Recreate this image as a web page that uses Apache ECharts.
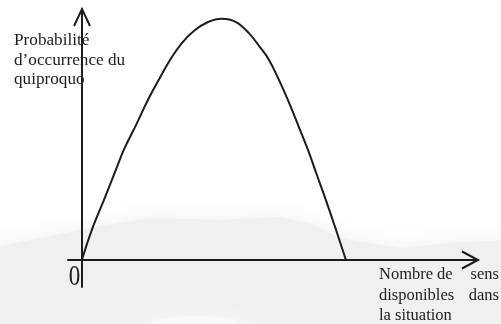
<!DOCTYPE html>
<html>
<head>
<meta charset="utf-8">
<script src="https://cdn.jsdelivr.net/npm/echarts@6/dist/echarts.min.js"></script>
<style>
  html, body { margin: 0; padding: 0; background: #fff; }
  #chart { width: 501px; height: 324px; }
</style>
</head>
<body>
<div id="chart"></div>
<script>
// curve (x: nombre de sens, y: probabilité, peak = 1)
const curveX = [0, 0.30, 0.67, 1.03, 1.27, 1.64, 2.0, 2.36, 2.67, 3.03, 3.39, 3.82, 4.24,
  4.67, 5.06, 5.39, 5.67, 5.97, 6.24, 6.55, 6.85, 7.12, 7.39, 7.70, 8.0]
const curveY = [0, 0.124, 0.249, 0.373, 0.456, 0.559, 0.663, 0.754, 0.829, 0.899, 0.949, 0.986, 1.0,
  0.986, 0.94, 0.883, 0.829, 0.746, 0.663, 0.559, 0.456, 0.352, 0.249, 0.124, 0]

const yLabel = ['Probabilité', 'd\u2019occurrence du', 'quiproquo']
const xLabel = [['Nombre', 'de', 'sens'], ['disponibles', 'dans'], ['la situation']]
const originLabel = '0'

const font = '16.5px "Liberation Serif", "Times New Roman", serif'
const ink = '#1c1c1c'

const chart = echarts.init(document.getElementById('chart'))

const points = curveX.map((x, i) => [x, curveY[i]])

const option = {
  animation: false,
  backgroundColor: '#fff',
  grid: { left: 68, top: 9, width: 410, height: 278 },
  xAxis: {
    type: 'value',
    min: -0.42,
    max: 12,
    axisLine: { onZero: true, lineStyle: { color: ink, width: 2 } },
    axisTick: { show: false },
    axisLabel: { show: false },
    splitLine: { show: false }
  },
  yAxis: {
    type: 'value',
    min: -0.112,
    max: 1.04,
    axisLine: { onZero: true, lineStyle: { color: ink, width: 2 } },
    axisTick: { show: false },
    axisLabel: { show: false },
    splitLine: { show: false }
  },
  series: [{
    type: 'line',
    data: points,
    smooth: 0.4,
    symbol: 'none',
    z: 5,
    lineStyle: { color: ink, width: 2 }
  }],
  graphic: [
    // faded grey background at the bottom of the scan
    {
      type: 'polygon', z: -10, silent: true,
      shape: { points: [[-20, 250], [40, 238], [100, 226], [150, 218], [220, 220], [280, 217], [312, 224], [340, 238], [400, 248], [460, 242], [520, 240], [520, 340], [-20, 340]] },
      style: { fill: '#f0f0f0', shadowBlur: 22, shadowColor: '#f0f0f0' }
    },
    {
      type: 'ellipse', z: -9, silent: true,
      shape: { cx: 195, cy: 332, rx: 55, ry: 16 },
      style: { fill: '#f9f9f9', shadowBlur: 20, shadowColor: '#f9f9f9' }
    },
    // arrow heads
    {
      type: 'polyline', z: 10,
      shape: { points: [[74, 26], [82, 9], [90, 26]] },
      style: { stroke: ink, lineWidth: 2, fill: null }
    },
    {
      type: 'polyline', z: 10,
      shape: { points: [[462, 251.5], [478, 260], [462, 268.5]] },
      style: { stroke: ink, lineWidth: 2, fill: null }
    },
    // y axis title
    {
      type: 'text', z: 10, left: 14, top: 31,
      style: { text: yLabel.join('\n'), font: '17.2px "Liberation Serif", "Times New Roman", serif', fill: ink, lineHeight: 19.5 }
    },
    // x axis title, justified like the original
    { type: 'text', z: 10, x: 379, y: 265, style: { text: xLabel[0][0], font: font, fill: ink, textAlign: 'left', lineHeight: 20 } },
    { type: 'text', z: 10, x: 437, y: 265, style: { text: xLabel[0][1], font: font, fill: ink, textAlign: 'left', lineHeight: 20 } },
    { type: 'text', z: 10, x: 499, y: 265, style: { text: xLabel[0][2], font: font, fill: ink, textAlign: 'right', lineHeight: 20 } },
    { type: 'text', z: 10, x: 379, y: 285.5, style: { text: xLabel[1][0], font: font, fill: ink, textAlign: 'left', lineHeight: 20 } },
    { type: 'text', z: 10, x: 499, y: 285.5, style: { text: xLabel[1][1], font: font, fill: ink, textAlign: 'right', lineHeight: 20 } },
    { type: 'text', z: 10, x: 379, y: 306, style: { text: xLabel[2][0], font: font, fill: ink, textAlign: 'left', lineHeight: 20 } },
    // origin
    {
      type: 'text', z: 10, x: 74.5, y: 277, scaleY: 1.3,
      style: { text: originLabel, x: 0, y: 0, font: '23px "Liberation Serif", serif', fill: ink, textAlign: 'center', textVerticalAlign: 'middle', verticalAlign: 'middle' }
    }
  ]
}

chart.setOption(option)
</script>
</body>
</html>
